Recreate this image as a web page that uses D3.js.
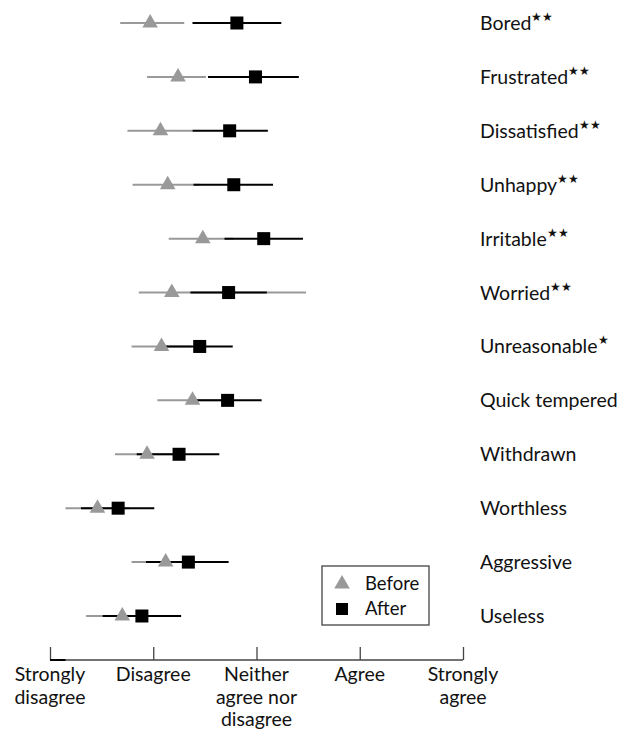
<!DOCTYPE html>
<html lang="en">
<head>
<meta charset="utf-8">
<title>Before / After ratings</title>
<script src="https://d3js.org/d3.v7.min.js"></script>
<style>
  body { margin: 0; background: #fff; }
  text { font-family: "Lato", "Open Sans", sans-serif; fill: #111; }
</style>
</head>
<body>
<script>
// categories, top to bottom
var labels = ["Bored", "Frustrated", "Dissatisfied", "Unhappy", "Irritable", "Worried",
              "Unreasonable", "Quick tempered", "Withdrawn", "Worthless", "Aggressive", "Useless"];
var stars = ["**", "**", "**", "**", "**", "**", "*", "", "", "", "", ""];

// before: mean, low, high
var beforeMean = [1.97, 2.24, 2.07, 2.14, 2.48, 2.18, 2.08, 2.38, 1.94, 1.46, 2.12, 1.70];
var beforeLow  = [1.68, 1.94, 1.75, 1.80, 2.15, 1.86, 1.79, 2.04, 1.63, 1.15, 1.79, 1.35];
var beforeHigh = [2.30, 2.51, 2.38, 2.45, 2.78, 3.48, 2.37, 2.70, 2.25, 1.77, 2.45, 2.05];

// after: mean, low, high
var afterMean = [2.81, 2.99, 2.74, 2.78, 3.07, 2.73, 2.45, 2.72, 2.25, 1.66, 2.34, 1.89];
var afterLow  = [2.38, 2.53, 2.38, 2.39, 2.69, 2.36, 2.11, 2.42, 1.84, 1.30, 1.93, 1.51];
var afterHigh = [3.24, 3.41, 3.11, 3.16, 3.45, 3.10, 2.77, 3.05, 2.64, 2.01, 2.73, 2.27];

var tickValues = [1, 2, 3, 4, 5];
var tickLabels = [["Strongly", "disagree"], ["Disagree"], ["Neither", "agree nor", "disagree"],
                  ["Agree"], ["Strongly", "agree"]];

var w = 622, h = 732;
var grey = "#999";

var svg = d3.select("body").append("svg")
  .attr("width", w)
  .attr("height", h);

var x = d3.scaleLinear().domain([1, 5]).range([50, 463]);
var y = d3.scalePoint().domain(d3.range(labels.length)).range([23, 616]);

var rows = svg.selectAll("g.row")
  .data(labels)
  .enter().append("g")
  .attr("class", "row")
  .attr("transform", function(d, i) { return "translate(0," + y(i) + ")"; });

// before interval (drawn first, under the after one)
rows.append("line")
  .attr("x1", function(d, i) { return x(beforeLow[i]); })
  .attr("x2", function(d, i) { return x(beforeHigh[i]); })
  .attr("stroke", grey)
  .attr("stroke-width", 2);

rows.append("line")
  .attr("x1", function(d, i) { return x(afterLow[i]); })
  .attr("x2", function(d, i) { return x(afterHigh[i]); })
  .attr("stroke", "#000")
  .attr("stroke-width", 2);

var tri = d3.symbol().type(d3.symbolTriangle).size(105);

rows.append("path")
  .attr("d", tri)
  .attr("transform", function(d, i) { return "translate(" + x(beforeMean[i]) + ",0)"; })
  .attr("fill", grey);

rows.append("rect")
  .attr("x", function(d, i) { return x(afterMean[i]) - 6.5; })
  .attr("y", -6.5)
  .attr("width", 13)
  .attr("height", 13)
  .attr("fill", "#000");

var lab = rows.append("text")
  .attr("x", 480)
  .attr("y", 7)
  .style("font-size", "19.5px");
lab.append("tspan").text(function(d) { return d; });
lab.append("tspan")
  .attr("dy", -9)
  .style("font-size", "12px")
  .text(function(d, i) { return stars[i].replace(/\*/g, "\u2605"); });

// axis
var axisY = 660;
var axis = svg.append("g")
  .attr("transform", "translate(0," + axisY + ")")
  .call(d3.axisTop(x).tickValues(tickValues).tickSize(13).tickFormat(""));
axis.select(".domain").attr("stroke", "#444").attr("stroke-width", 1.3).attr("d", "M" + x(1) + ",0H" + x(5));
axis.selectAll(".tick line").attr("stroke", "#444").attr("stroke-width", 1.3);

svg.append("line")
  .attr("x1", x(1)).attr("x2", x(1.15))
  .attr("y1", axisY).attr("y2", axisY)
  .attr("stroke", "#000").attr("stroke-width", 2);

var tl = svg.selectAll("text.tick-label")
  .data(tickValues)
  .enter().append("text")
  .attr("class", "tick-label")
  .attr("x", function(d) { return x(d); })
  .attr("y", 681)
  .attr("text-anchor", "middle")
  .style("font-size", "19.5px");
tl.selectAll("tspan")
  .data(function(d, i) { return tickLabels[i]; })
  .enter().append("tspan")
  .attr("x", function() { return x(d3.select(this.parentNode).datum()); })
  .attr("dy", function(d, j) { return j === 0 ? 0 : 22.5; })
  .text(function(d) { return d; });

// legend
var lg = svg.append("g").attr("transform", "translate(322,566)");
lg.append("rect")
  .attr("width", 107).attr("height", 59)
  .attr("fill", "#fff").attr("stroke", "#444").attr("stroke-width", 1.3);
lg.append("path").attr("d", tri).attr("transform", "translate(20,18)").attr("fill", grey);
lg.append("rect").attr("x", 14).attr("y", 37).attr("width", 12).attr("height", 12).attr("fill", "#000");
lg.append("text").attr("x", 43).attr("y", 24).style("font-size", "18.5px").text("Before");
lg.append("text").attr("x", 43).attr("y", 49).style("font-size", "18.5px").text("After");
</script>
</body>
</html>
